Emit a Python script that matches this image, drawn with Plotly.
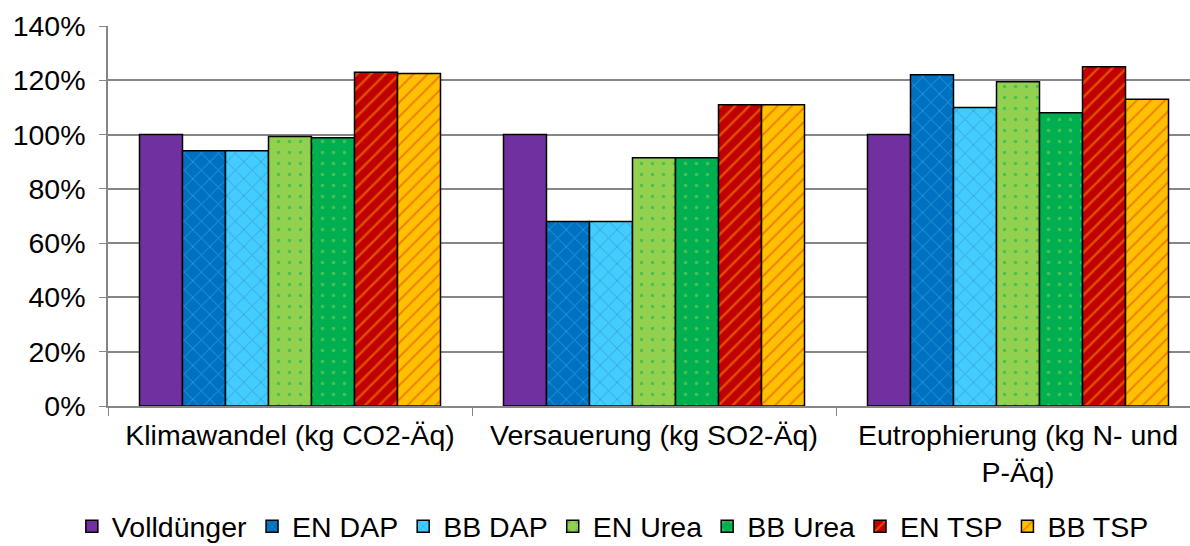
import plotly.graph_objects as go

categories = ["Klimawandel (kg CO2-Äq)", "Versauerung (kg SO2-Äq)", "Eutrophierung (kg N- und<br>P-Äq)"]
series_names = ["Volldünger", "EN DAP", "BB DAP", "EN Urea", "BB Urea", "EN TSP", "BB TSP"]
volldunger = [100, 100, 100]
en_dap = [94, 68, 122]
bb_dap = [94, 68, 110]
en_urea = [99.3, 91.5, 119.5]
bb_urea = [98.8, 91.5, 108]
en_tsp = [123, 111, 125]
bb_tsp = [122.5, 111, 113]
values = [volldunger, en_dap, bb_dap, en_urea, bb_urea, en_tsp, bb_tsp]
y_ticks = [0, 20, 40, 60, 80, 100, 120, 140]

styles = [
    dict(color="#7030A0"),
    dict(color="#0070C0", pattern=dict(shape="x", fgcolor="#4FC3F7", size=12, solidity=0.15, fillmode="overlay")),
    dict(color="#45CCFF", pattern=dict(shape="x", fgcolor="#1F7AC8", size=12, solidity=0.15, fillmode="overlay")),
    dict(color="#92D050", pattern=dict(shape=".", fgcolor="#00B050", size=11, solidity=0.08, fillmode="overlay")),
    dict(color="#00B050", pattern=dict(shape=".", fgcolor="#92D050", size=11, solidity=0.08, fillmode="overlay")),
    dict(color="#C00000", pattern=dict(shape="/", fgcolor="#FF9900", size=10, solidity=0.25, fillmode="overlay")),
    dict(color="#FFC000", pattern=dict(shape="/", fgcolor="#E04000", size=10, solidity=0.2, fillmode="overlay")),
]

fig = go.Figure()
for name, vals, st in zip(series_names, values, styles):
    marker = dict(st)
    marker["line"] = dict(color="#000000", width=1.5)
    fig.add_trace(go.Bar(name=name, x=categories, y=vals, marker=marker))

font = "Liberation Sans, Arial, sans-serif"
fs = 28.5
fig.update_layout(
    width=1190, height=546,
    margin=dict(l=108, r=0, t=26, b=140, autoexpand=False),
    barmode="group", bargap=0.173, bargroupgap=0,
    plot_bgcolor="white", paper_bgcolor="white",
    font=dict(family=font, size=fs, color="#000000"),
    legend=dict(orientation="h", xref="container", x=0.515, xanchor="center",
                y=-0.318, yanchor="middle",
                font=dict(size=fs), itemwidth=30, tracegroupgap=0),
    showlegend=True,
)
fig.update_xaxes(
    type="category", range=[-0.5, 2.5 - 10/364], tickson="boundaries",
    ticks="outside", ticklen=8, tickcolor="#868686", ticklabelstandoff=3,
    showline=True, linecolor="#868686", linewidth=1.5, showgrid=False,
    tickfont=dict(size=fs),
)
fig.update_yaxes(
    range=[0, 140], tickvals=y_ticks, ticktext=[f"{v}%" for v in y_ticks],
    showgrid=True, gridcolor="#868686", gridwidth=1.5,
    showline=True, linecolor="#868686", linewidth=1.5,
    ticks="outside", ticklen=7, tickcolor="#868686", ticklabelstandoff=8,
    tickfont=dict(size=fs), zeroline=False,
)
fig.write_html("out.html")
